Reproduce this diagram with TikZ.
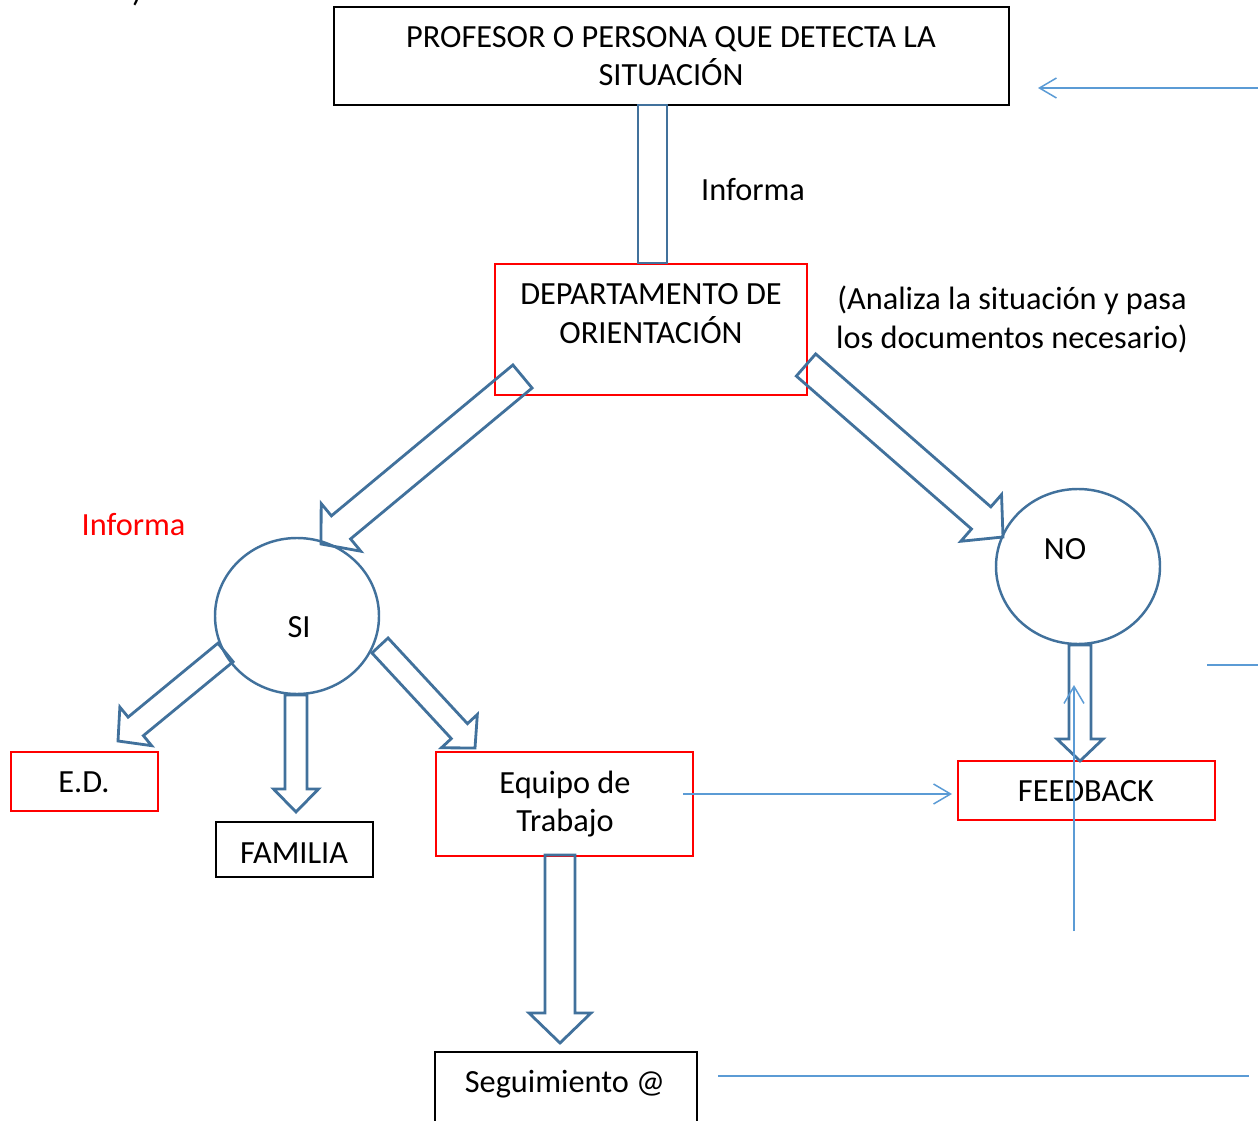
\documentclass[tikz,border=0pt]{standalone}
\usepackage{fontspec}
\setmainfont{Carlito}
\usetikzlibrary{calc,arrows.meta,shapes.geometric}
\definecolor{arrblue}{HTML}{41719C}
\definecolor{lineblue}{HTML}{5B9BD5}
\tikzset{
 blackbox/.style={draw=black, line width=0.85pt, inner sep=0pt, outer sep=0pt},
 redbox/.style={draw=red, line width=0.85pt, inner sep=0pt, outer sep=0pt},
 blk/.style={draw=arrblue, line width=1.6pt, line join=miter},
 circ/.style={ellipse, draw=arrblue, line width=1.4pt, inner sep=0pt, outer sep=0pt},
 thinblue/.style={draw=lineblue, line width=0.85pt},
 chev/.style={-{Straight Barb[length=0.34cm,width=0.4cm]}},
 txt/.style={font=\fontsize{18.4pt}{22pt}\selectfont, align=center, inner sep=0pt},
}
\newcommand\blockarrow[5]{%
 \coordinate (bah) at ($(#2)!#5!(#1)$);
 \draw[blk] ($(#1)!#3!90:(#2)$) -- ($(bah)!#3!90:(#2)$) -- ($(bah)!#4!90:(#2)$) -- (#2)
   -- ($(bah)!#4!-90:(#2)$) -- ($(bah)!#3!-90:(#2)$) -- ($(#1)!#3!-90:(#2)$) -- cycle;}
\begin{document}
\begin{tikzpicture}[x=0.02cm, y=-0.02cm]
\useasboundingbox (0,0) rectangle (1258,1121);
\clip (0,0) rectangle (1258,1121);
% fragment at the top
\node[txt, anchor=base] (frag) at (137,2) {)};
% boxes
\node[blackbox, minimum width=675*0.02cm, minimum height=98*0.02cm] (prof) at (671.5,56) {};
\node[txt] (proftxt) at (671,56) {PROFESOR O PERSONA QUE DETECTA LA\\SITUACIÓN};
\node[txt] (inf1) at (753,190) {Informa};
\node[redbox, minimum width=312*0.02cm, minimum height=131*0.02cm] (dep) at (651,329.5) {};
\node[txt] (deptxt) at (651,313.5) {DEPARTAMENTO DE\\ORIENTACIÓN};
\node[txt] (analiza) at (1012,319.5) {(Analiza la situación y pasa\\los documentos necesario)};
\node[txt, text=red] (inf2) at (133.5,525) {Informa};
\node[circ, minimum width=164*0.02cm, minimum height=156*0.02cm] (si) at (297,616) {};
\node[txt] (situxt) at (299,627) {SI};
\node[circ, minimum width=164*0.02cm, minimum height=155*0.02cm] (no) at (1078,566.5) {};
\node[txt] (notxt) at (1065,549) {NO};
\node[redbox, minimum width=147*0.02cm, minimum height=59*0.02cm] (ed) at (84.5,781.5) {};
\node[txt] (edtxt) at (84,782) {E.D.};
\node[blackbox, minimum width=157*0.02cm, minimum height=55*0.02cm] (fam) at (294.5,849.5) {};
\node[txt] (famtxt) at (294,853) {FAMILIA};
\node[redbox, minimum width=257*0.02cm, minimum height=104*0.02cm] (equipo) at (564.5,804) {};
\node[txt] (equipotxt) at (565,804) {Equipo de\\Trabajo};
\node[redbox, minimum width=257*0.02cm, minimum height=59*0.02cm] (feed) at (1086.5,790.5) {};
\node[txt] (feedtxt) at (1086,791) {FEEDBACK};
\node[blackbox, minimum width=262*0.02cm, minimum height=88*0.02cm] (seg) at (566,1096) {};
\node[txt] (segtxt) at (565,1084) {Seguimiento @};
% block arrows
\draw[blk] (638,105) rectangle (667,263);
\coordinate (a1t) at (522.5,376.5); \coordinate (a1h) at (321,544);
\blockarrow{a1t}{a1h}{0.30cm}{0.62cm}{0.52cm}
\coordinate (a2t) at (806,365); \coordinate (a2h) at (1003,537);
\blockarrow{a2t}{a2h}{0.294cm}{0.62cm}{0.58cm}
\coordinate (a3t) at (225.5,652.5); \coordinate (a3h) at (118,741);
\blockarrow{a3t}{a3h}{0.24cm}{0.50cm}{0.46cm}
\coordinate (a4t) at (296,695); \coordinate (a4h) at (296,812);
\blockarrow{a4t}{a4h}{0.22cm}{0.45cm}{0.46cm}
\coordinate (a5t) at (380,645.5); \coordinate (a5h) at (475,748);
\blockarrow{a5t}{a5h}{0.22cm}{0.49cm}{0.46cm}
\coordinate (a6t) at (1080,645); \coordinate (a6h) at (1080,761);
\blockarrow{a6t}{a6h}{0.22cm}{0.46cm}{0.44cm}
\coordinate (a7t) at (560,855); \coordinate (a7h) at (560,1043);
\blockarrow{a7t}{a7h}{0.30cm}{0.62cm}{0.60cm}
% thin blue lines
\coordinate (l1a) at (1258,88); \coordinate (l1b) at (1038,88);
\draw[thinblue, chev] (l1a) -- (l1b);
\coordinate (l2a) at (1207,665); \coordinate (l2b) at (1258,665);
\draw[thinblue] (l2a) -- (l2b);
\coordinate (l3a) at (683,794); \coordinate (l3b) at (952,794);
\draw[thinblue, chev] (l3a) -- (l3b);
\coordinate (l4a) at (1074,931); \coordinate (l4b) at (1074,685);
\draw[thinblue, chev] (l4a) -- (l4b);
\coordinate (l5a) at (718,1076); \coordinate (l5b) at (1249,1076);
\draw[thinblue] (l5a) -- (l5b);
\end{tikzpicture}
\end{document}
